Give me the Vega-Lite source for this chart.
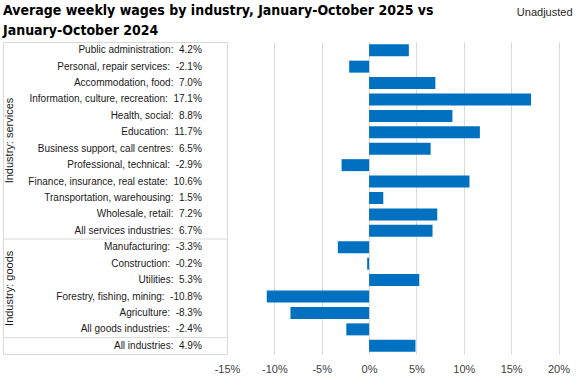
{
  "$schema": "https://vega.github.io/schema/vega-lite/v6.json",
  "padding": {"left": 2, "top": 3, "right": 8, "bottom": 8},
  "background": "#ffffff",
  "spacing": 0,
  "bounds": "flush",
  "resolve": {"scale": {"x": "independent", "y": "independent"}},
  "config": {
    "font": "Liberation Sans",
    "text": {"font": "Liberation Sans", "fontSize": 10, "color": "#1a1a1a"},
    "axis": {"labelFont": "Liberation Sans"}
  },
  "datasets": {
    "wages": [
      {"industry": "Public administration", "change": 4.2, "label": "Public administration:\u00a0 4.2%"},
      {"industry": "Personal, repair services", "change": -2.1, "label": "Personal, repair services:\u00a0 -2.1%"},
      {"industry": "Accommodation, food", "change": 7.0, "label": "Accommodation, food:\u00a0 7.0%"},
      {"industry": "Information, culture, recreation", "change": 17.1, "label": "Information, culture, recreation:\u00a0 17.1%"},
      {"industry": "Health, social", "change": 8.8, "label": "Health, social:\u00a0 8.8%"},
      {"industry": "Education", "change": 11.7, "label": "Education:\u00a0 11.7%"},
      {"industry": "Business support, call centres", "change": 6.5, "label": "Business support, call centres:\u00a0 6.5%"},
      {"industry": "Professional, technical", "change": -2.9, "label": "Professional, technical:\u00a0 -2.9%"},
      {"industry": "Finance, insurance, real estate", "change": 10.6, "label": "Finance, insurance, real estate:\u00a0 10.6%"},
      {"industry": "Transportation, warehousing", "change": 1.5, "label": "Transportation, warehousing:\u00a0 1.5%"},
      {"industry": "Wholesale, retail", "change": 7.2, "label": "Wholesale, retail:\u00a0 7.2%"},
      {"industry": "All services industries", "change": 6.7, "label": "All services industries:\u00a0 6.7%"},
      {"industry": "Manufacturing", "change": -3.3, "label": "Manufacturing:\u00a0 -3.3%"},
      {"industry": "Construction", "change": -0.2, "label": "Construction:\u00a0 -0.2%"},
      {"industry": "Utilities", "change": 5.3, "label": "Utilities:\u00a0 5.3%"},
      {"industry": "Forestry, fishing, mining", "change": -10.8, "label": "Forestry, fishing, mining:\u00a0 -10.8%"},
      {"industry": "Agriculture", "change": -8.3, "label": "Agriculture:\u00a0 -8.3%"},
      {"industry": "All goods industries", "change": -2.4, "label": "All goods industries:\u00a0 -2.4%"},
      {"industry": "All industries", "change": 4.9, "label": "All industries:\u00a0 4.9%"}
    ],
    "groups": [
      {"name": "Industry: services", "at": "Business support, call centres"},
      {"name": "Industry: goods", "at": "Forestry, fishing, mining"}
    ],
    "seps": [
      {"at": "Manufacturing"},
      {"at": "All industries"}
    ]
  },
  "hconcat": [
    {
      "width": 224,
      "height": 312,
      "view": {"stroke": "#d9d9d9", "strokeWidth": 1},
      "title": {
        "text": ["Average weekly wages by industry, January-October 2025 vs", "January-October 2024"],
        "anchor": "start",
        "frame": "group",
        "font": "Liberation Sans Narrow, DejaVu Sans Condensed, Roboto Condensed, Liberation Sans",
        "fontSize": 14,
        "fontWeight": "bold",
        "lineHeight": 20,
        "color": "#000000",
        "offset": 4,
        "limit": 600
      },
      "layer": [
        {
          "data": {"name": "wages"},
          "mark": {"type": "text", "align": "right", "baseline": "middle"},
          "encoding": {
            "y": {"field": "industry", "type": "nominal", "sort": null, "axis": null,
              "scale": {"paddingInner": 0, "paddingOuter": 0, "domain": ["Public administration", "Personal, repair services", "Accommodation, food", "Information, culture, recreation", "Health, social", "Education", "Business support, call centres", "Professional, technical", "Finance, insurance, real estate", "Transportation, warehousing", "Wholesale, retail", "All services industries", "Manufacturing", "Construction", "Utilities", "Forestry, fishing, mining", "Agriculture", "All goods industries", "All industries"]}},
            "x": {"datum": 213, "type": "quantitative", "scale": {"domain": [0, 224]}, "axis": null},
            "text": {"field": "label", "type": "nominal"}
          }
        },
        {
          "data": {"name": "groups"},
          "mark": {"type": "text", "align": "center", "baseline": "middle", "angle": 270, "fontSize": 11},
          "encoding": {
            "y": {"field": "at", "type": "nominal", "bandPosition": 0},
            "x": {"datum": 7, "type": "quantitative"},
            "text": {"field": "name", "type": "nominal"}
          }
        },
        {
          "data": {"name": "seps"},
          "mark": {"type": "rule", "color": "#d9d9d9", "strokeWidth": 1},
          "encoding": {
            "y": {"field": "at", "type": "nominal", "bandPosition": 0}
          }
        }
      ]
    },
    {
      "width": 331.5,
      "height": 312,
      "view": {"stroke": null},
      "title": {
        "text": "Unadjusted",
        "anchor": "end",
        "frame": "group",
        "fontSize": 11,
        "fontWeight": "normal",
        "font": "Liberation Sans",
        "color": "#262626",
        "offset": 4,
        "dy": -20,
        "dx": 14
      },
      "data": {"name": "wages"},
      "mark": {"type": "bar", "color": "#0070C0"},
      "encoding": {
        "y": {"field": "industry", "type": "nominal", "sort": null, "axis": null,
          "scale": {"paddingInner": 0.27, "paddingOuter": 0.135, "domain": ["Public administration", "Personal, repair services", "Accommodation, food", "Information, culture, recreation", "Health, social", "Education", "Business support, call centres", "Professional, technical", "Finance, insurance, real estate", "Transportation, warehousing", "Wholesale, retail", "All services industries", "Manufacturing", "Construction", "Utilities", "Forestry, fishing, mining", "Agriculture", "All goods industries", "All industries"]}},
        "x": {"field": "change", "type": "quantitative",
          "scale": {"domain": [-15, 20], "nice": false, "zero": false},
          "axis": {
            "title": null,
            "values": [-15, -10, -5, 0, 5, 10, 15, 20],
            "labelExpr": "datum.value + '%'",
            "grid": true,
            "gridColor": "#d9d9d9",
            "gridWidth": 1,
            "domain": false,
            "ticks": false,
            "labelFontSize": 11,
            "labelColor": "#404040",
            "labelPadding": 9,
            "labelFlush": false
          }
        }
      }
    }
  ]
}
